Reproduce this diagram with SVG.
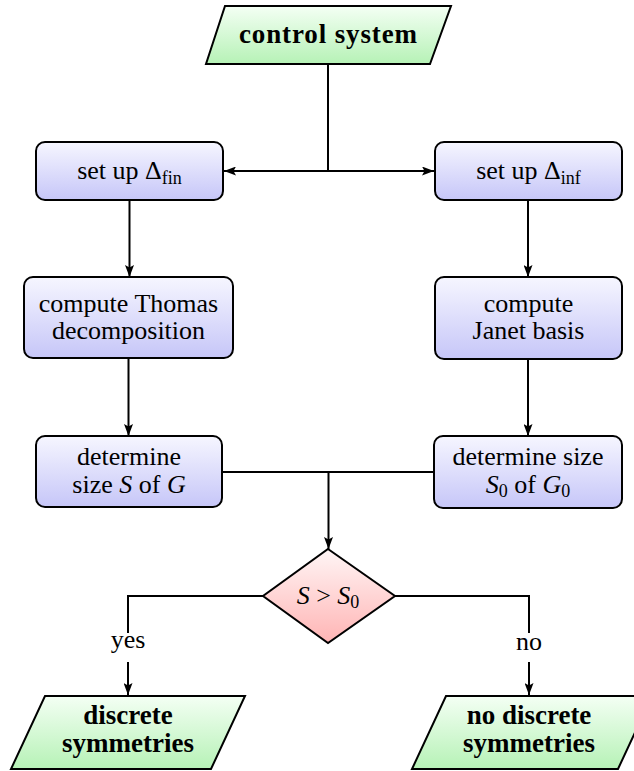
<svg xmlns="http://www.w3.org/2000/svg" width="634" height="771" viewBox="0 0 634 771">
<defs>
<linearGradient id="gBlue" x1="0" y1="0" x2="0" y2="1"><stop offset="0" stop-color="#f6f6ff"/><stop offset="1" stop-color="#c6c6f8"/></linearGradient>
<linearGradient id="gGreen" x1="0" y1="0" x2="0" y2="1"><stop offset="0" stop-color="#f4fff4"/><stop offset="1" stop-color="#b6f2b6"/></linearGradient>
<linearGradient id="gRed" x1="0" y1="0" x2="0" y2="1"><stop offset="0" stop-color="#fff6f6"/><stop offset="1" stop-color="#ffb4b4"/></linearGradient>
<marker id="arr" viewBox="0 0 12 9" refX="12" refY="4.5" markerWidth="12" markerHeight="9" orient="auto" markerUnits="userSpaceOnUse"><path d="M0,0 L12,4.5 L0,9 L2.5,4.5 z" fill="#000"/></marker>
</defs>
<g id="connectors" fill="none" stroke="#000" stroke-width="2">
<path d="M328,64 L328,171"/>
<path d="M328,171 L224,171" marker-end="url(#arr)"/>
<path d="M328,171 L434,171" marker-end="url(#arr)"/>
<path d="M129.5,200 L129.5,277" marker-end="url(#arr)"/>
<path d="M528,200 L528,277" marker-end="url(#arr)"/>
<path d="M128.5,358 L128.5,436" marker-end="url(#arr)"/>
<path d="M528,359 L528,436" marker-end="url(#arr)"/>
<path d="M222,472 L434,472"/>
<path d="M328.5,472 L328.5,549" marker-end="url(#arr)"/>
<path d="M263,596 L128,596 L128,633"/>
<path d="M128,662 L128,695" marker-end="url(#arr)"/>
<path d="M395,596 L529,596 L529,633"/>
<path d="M529,662 L529,695" marker-end="url(#arr)"/>
<text x="128" y="648" fill="#000" stroke="none" font-family="Liberation Serif" font-size="26" text-anchor="middle">yes</text>
<text x="529" y="650" fill="#000" stroke="none" font-family="Liberation Serif" font-size="26" text-anchor="middle">no</text>
</g>
<g id="control">
<polygon fill="url(#gGreen)" stroke="#000" stroke-width="2" points="225,6 451,6 430,64 206,64"/>
<text x="328" y="43" font-family="Liberation Serif" font-size="27" font-weight="bold" text-anchor="middle" textLength="178" lengthAdjust="spacing">control system</text>
</g>
<g id="setupfin">
<rect fill="url(#gBlue)" stroke="#000" stroke-width="2" x="36" y="142" width="187" height="58" rx="9"/>
<text x="129.5" y="179" font-family="Liberation Serif" font-size="26" text-anchor="middle">set up Δ<tspan font-size="18" dy="5">fin</tspan></text>
</g>
<g id="setupinf">
<rect fill="url(#gBlue)" stroke="#000" stroke-width="2" x="435" y="142" width="187" height="58" rx="9"/>
<text x="528.5" y="179" font-family="Liberation Serif" font-size="26" text-anchor="middle">set up Δ<tspan font-size="18" dy="5">inf</tspan></text>
</g>
<g id="thomas">
<rect fill="url(#gBlue)" stroke="#000" stroke-width="2" x="24" y="277" width="209" height="81" rx="9"/>
<text x="128.5" y="312" font-family="Liberation Serif" font-size="26" text-anchor="middle">compute Thomas</text>
<text x="128.5" y="339" font-family="Liberation Serif" font-size="26" text-anchor="middle">decomposition</text>
</g>
<g id="janet">
<rect fill="url(#gBlue)" stroke="#000" stroke-width="2" x="435" y="277" width="187" height="82" rx="9"/>
<text x="528.5" y="312" font-family="Liberation Serif" font-size="26" text-anchor="middle">compute</text>
<text x="528.5" y="339" font-family="Liberation Serif" font-size="26" text-anchor="middle">Janet basis</text>
</g>
<g id="sizeS">
<rect fill="url(#gBlue)" stroke="#000" stroke-width="2" x="36" y="436" width="186" height="71" rx="9"/>
<text x="129" y="465" font-family="Liberation Serif" font-size="26" text-anchor="middle">determine</text>
<text x="129" y="493" font-family="Liberation Serif" font-size="26" text-anchor="middle">size <tspan font-style="italic">S</tspan> of <tspan font-style="italic">G</tspan></text>
</g>
<g id="sizeS0">
<rect fill="url(#gBlue)" stroke="#000" stroke-width="2" x="434" y="436" width="188" height="72" rx="9"/>
<text x="528" y="465" font-family="Liberation Serif" font-size="26" text-anchor="middle">determine size</text>
<text x="528" y="493" font-family="Liberation Serif" font-size="26" text-anchor="middle"><tspan font-style="italic">S</tspan><tspan font-size="18" dy="4">0</tspan><tspan dy="-4"> of </tspan><tspan font-style="italic">G</tspan><tspan font-size="18" dy="4">0</tspan></text>
</g>
<g id="decision">
<polygon fill="url(#gRed)" stroke="#000" stroke-width="2" points="328,549 395,596 328,643 263,596"/>
<text x="328" y="604" font-family="Liberation Serif" font-size="26" text-anchor="middle"><tspan font-style="italic">S</tspan> &gt; <tspan font-style="italic">S</tspan><tspan font-size="18" dy="4">0</tspan></text>
</g>
<g id="discrete">
<polygon fill="url(#gGreen)" stroke="#000" stroke-width="2" points="45,696 245,696 211,769 11,769"/>
<text x="128" y="724" font-family="Liberation Serif" font-size="27" font-weight="bold" text-anchor="middle">discrete</text>
<text x="128" y="752" font-family="Liberation Serif" font-size="27" font-weight="bold" text-anchor="middle">symmetries</text>
</g>
<g id="nodiscrete">
<polygon fill="url(#gGreen)" stroke="#000" stroke-width="2" points="446,696 652,696 618,769 412,769"/>
<text x="529" y="724" font-family="Liberation Serif" font-size="27" font-weight="bold" text-anchor="middle">no discrete</text>
<text x="529" y="752" font-family="Liberation Serif" font-size="27" font-weight="bold" text-anchor="middle">symmetries</text>
</g>
</svg>
